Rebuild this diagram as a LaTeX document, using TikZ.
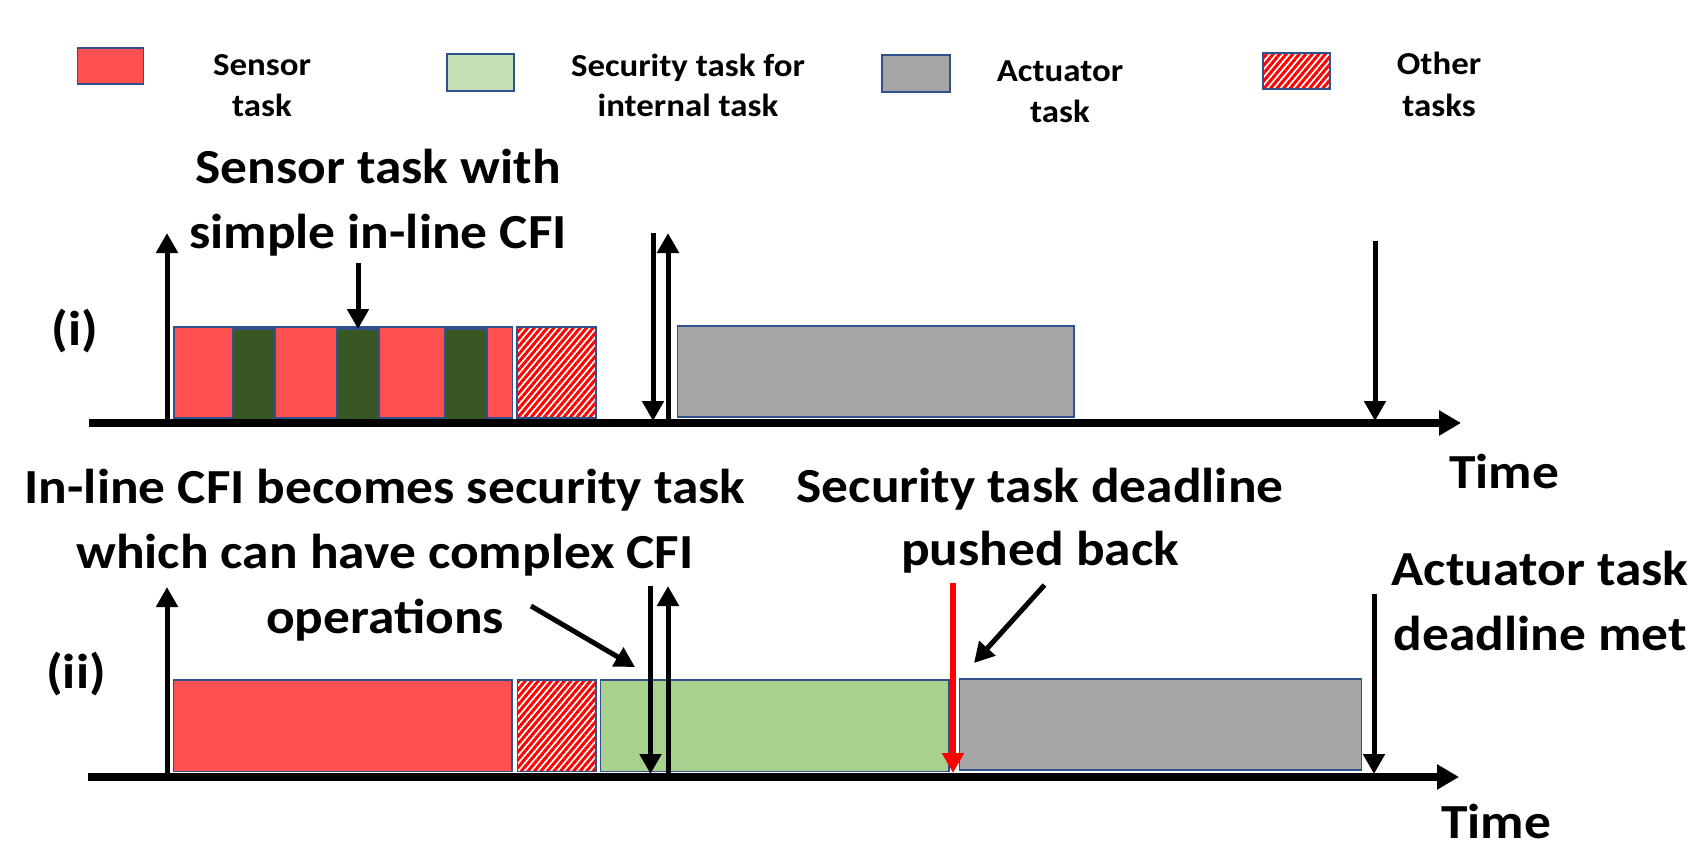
\documentclass[tikz,border=0pt]{standalone}
\usepackage{fontspec}
\setmainfont{Carlito}[FakeStretch=1.09]
\usetikzlibrary{arrows.meta,patterns.meta}
\definecolor{sred}{HTML}{FF5050}
\definecolor{dgreen}{HTML}{385723}
\definecolor{lgreen}{HTML}{C5E0B4}
\definecolor{mgreen}{HTML}{A9D18E}
\definecolor{agray}{HTML}{A6A6A6}
\definecolor{bord}{HTML}{2F528F}
\tikzset{
  blk/.style={draw=bord, line width=1.5pt, inner sep=0pt, outer sep=0pt},
  hatch/.style={blk, preaction={fill=white}, pattern={Lines[angle=50,distance=5pt,line width=3pt]}, pattern color=red},
  big/.style={font=\bfseries\fontsize{49}{60}\selectfont, inner sep=0pt, anchor=base},
  leg/.style={font=\bfseries\fontsize{32}{40}\selectfont, inner sep=0pt, anchor=base},
  arr/.style={line width=5pt, -{Triangle[width=21pt,length=20pt]}},
  redarr/.style={line width=6pt, draw=red, -{Triangle[width=21pt,length=20pt]}},
  axis/.style={line width=8pt, -{Triangle[width=24pt,length=22pt]}},
}
\begin{document}
\begin{tikzpicture}[x=1pt,y=-1pt]
\fill[white] (0,0) rectangle (1697,848);
\useasboundingbox (0,0) rectangle (1697,848);

% legend
\node[blk, fill=sred, minimum width=66pt, minimum height=36pt] (lgred) at (110.5,66) {};
\node[leg] (lgt1a) at (262,76) {Sensor};
\node[leg] (lgt1b) at (262,117) {task};
\node[blk, fill=lgreen, minimum width=67pt, minimum height=37pt] (lggreen) at (480.5,72.5) {};
\node[leg] (lgt2a) at (688,77) {Security task for};
\node[leg] (lgt2b) at (688,117) {internal task};
\node[blk, fill=agray, minimum width=68pt, minimum height=37pt] (lggray) at (916,73.5) {};
\node[leg] (lgt3a) at (1060,82) {Actuator};
\node[leg] (lgt3b) at (1060,123) {task};
\node[hatch, minimum width=67pt, minimum height=36pt] (lghatch) at (1296.5,71) {};
\node[leg] (lgt4a) at (1439,75) {Other};
\node[leg] (lgt4b) at (1439,117) {tasks};

% ---------- (i) ----------
\node[big] (lab1) at (75,345) {(i)};
\node[big] (cap1a) at (378,183) {Sensor task with};
\node[big] (cap1b) at (378,248) {simple in-line CFI};

\node[blk, fill=sred, minimum width=338.5pt, minimum height=91pt] (r1) at (343.25,372.5) {};
\node[blk, fill=dgreen, minimum width=42pt, minimum height=92pt] (g1) at (254,375) {};
\node[blk, fill=dgreen, minimum width=42pt, minimum height=92pt] (g2) at (358,375) {};
\node[blk, fill=dgreen, minimum width=42pt, minimum height=92pt] (g3) at (466,375) {};
\node[hatch, minimum width=79pt, minimum height=91pt] (h1) at (556.5,372.5) {};
\node[blk, fill=agray, minimum width=396.5pt, minimum height=91pt] (a1) at (875.75,371.5) {};

\coordinate (ax1s) at (89,423);
\coordinate (ax1e) at (1461,423);
\draw[axis] (ax1s) -- (ax1e);
\node[big] (time1) at (1504,488) {Time};

\coordinate (u1b) at (167,423);  \coordinate (u1t) at (167,233);
\draw[arr] (u1b) -- (u1t);
\coordinate (cfit) at (358,263);
\draw[arr] (cfit) -- (g2.north);
\coordinate (d1t) at (653,233); \coordinate (d1b) at (653,421);
\draw[arr] (d1t) -- (d1b);
\coordinate (u2b) at (668,423); \coordinate (u2t) at (668,233);
\draw[arr] (u2b) -- (u2t);
\coordinate (d2t) at (1375,241); \coordinate (d2b) at (1375,421);
\draw[arr] (d2t) -- (d2b);

% ---------- (ii) ----------
\node[big] (lab2) at (76,688) {(ii)};
\node[big] (cap2a) at (385,503) {In-line CFI becomes security task};
\node[big] (cap2b) at (385,568) {which can have complex CFI};
\node[big] (cap2c) at (385,633) {operations};
\node[big] (cap3a) at (1040,502) {Security task deadline};
\node[big] (cap3b) at (1040,565) {pushed back};
\node[big] (cap4a) at (1540,585) {Actuator task};
\node[big] (cap4b) at (1540,650) {deadline met};

\node[blk, fill=sred, minimum width=338.6pt, minimum height=91.7pt] (r2) at (342.7,725.85) {};
\node[hatch, minimum width=78.4pt, minimum height=91.7pt] (h2) at (556.8,725.85) {};
\node[blk, fill=mgreen, minimum width=348.5pt, minimum height=91.7pt] (s2) at (774.75,725.85) {};
\node[blk, fill=agray, minimum width=401.9pt, minimum height=91pt] (a2) at (1160.65,724.5) {};

\coordinate (ax2s) at (88,777);
\coordinate (ax2e) at (1459,777);
\draw[axis] (ax2s) -- (ax2e);
\node[big] (time2) at (1496,838) {Time};

\coordinate (u3b) at (167,777); \coordinate (u3t) at (167,587);
\draw[arr] (u3b) -- (u3t);
\coordinate (d3t) at (650.5,586); \coordinate (d3b) at (650.5,774);
\draw[arr] (d3t) -- (d3b);
\coordinate (u4b) at (668,777); \coordinate (u4t) at (668,586);
\draw[arr] (u4b) -- (u4t);
\coordinate (o1) at (531,606); \coordinate (o2) at (635,667);
\draw[arr] (o1) -- (o2);
\coordinate (rt) at (953,583); \coordinate (rb) at (953,773);
\draw[redarr] (rt) -- (rb);
\coordinate (p1) at (1044.5,585); \coordinate (p2) at (974,663);
\draw[arr] (p1) -- (p2);
\coordinate (d4t) at (1374,594); \coordinate (d4b) at (1374,774);
\draw[arr] (d4t) -- (d4b);
\end{tikzpicture}
\end{document}
